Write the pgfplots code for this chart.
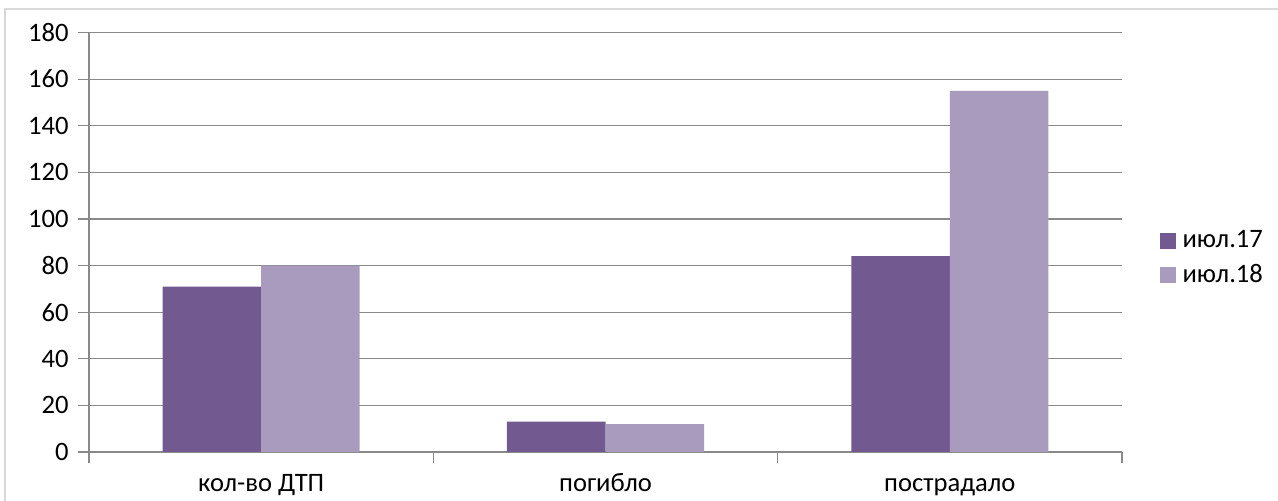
\documentclass[border=0pt]{standalone}
\usepackage{pgfplots}
\pgfplotsset{compat=1.18}
\usepackage{fontspec}
\setmainfont{Carlito}
\definecolor{dark}{HTML}{725990}
\definecolor{light}{HTML}{A99BBD}
\definecolor{axgray}{HTML}{898989}
\definecolor{frame}{HTML}{D9D9D9}
\begin{document}
\begin{tikzpicture}[font=\fontsize{13.3bp}{16bp}\selectfont]
\useasboundingbox (0,0) rectangle (639bp,250.5bp);
\draw[frame, line width=1bp] (2.5bp,0) -- (2.5bp,246bp) -- (639bp,246bp);
\begin{axis}[
  at={(44.5bp,24.5bp)}, anchor=south west,
  scale only axis,
  width=516.5bp, height=209.75bp,
  ybar=0pt, bar width=0.2862,
  xmin=-0.5, xmax=2.5, ymin=0, ymax=180,
  ytick={0,20,...,180},
  xtick={-0.5,0.5,1.5,2.5},
  x tick label as interval,
  xticklabels={кол-во ДТП, погибло, пострадало},
  axis lines*=left,
  axis line style={axgray, line width=0.6bp},
  tick align=outside,
  major tick length=5.5bp,
  tick style={axgray, line width=0.6bp},
  ymajorgrids,
  grid style={axgray, line width=0.6bp},
  /pgf/number format/assume math mode=true,
  yticklabel style={anchor=east, inner sep=0pt, xshift=-4.5bp},
  xticklabel style={anchor=base, inner sep=0pt, yshift=-14bp},
  legend style={draw=none, fill=none, at={(1.036,0.4625)}, anchor=west,
    row sep=2.5bp, inner sep=0pt, font=\fontsize{13.3bp}{16bp}\selectfont},
  legend cell align=left,
]
\addplot[fill=dark, draw=none, legend image code/.code={\fill[dark] (0bp,-4bp) rectangle (8bp,4bp); \path (9.5bp,0);}] coordinates {(0,71) (1,13) (2,84)};
\addplot[fill=light, draw=none, legend image code/.code={\fill[light] (0bp,-4bp) rectangle (8bp,4bp); \path (9.5bp,0);}] coordinates {(0,80) (1,12) (2,155)};
\legend{июл.17, июл.18}
\end{axis}
\end{tikzpicture}
\end{document}
